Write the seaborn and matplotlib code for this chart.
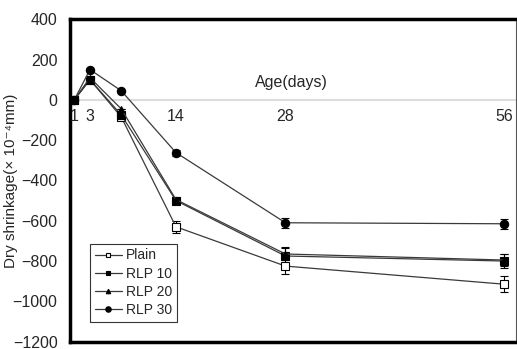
import matplotlib
matplotlib.use("Agg")
import matplotlib.pyplot as plt
import seaborn as sns
import pandas as pd

ages = [1, 3, 7, 14, 28, 56]
series_names = ["Plain", "RLP 10", "RLP 20", "RLP 30"]
plain = [0, 100, -85, -630, -825, -915]
rlp10 = [0, 100, -75, -500, -775, -800]
rlp20 = [0, 110, -45, -495, -765, -795]
rlp30 = [0, 150, 45, -262, -610, -615]
plain_err = [0, 0, 0, 30, 40, 40]
rlp10_err = [0, 0, 0, 15, 45, 35]
rlp20_err = [0, 0, 0, 15, 30, 30]
rlp30_err = [0, 0, 0, 15, 25, 25]
tick_ages = [1, 3, 7, 14, 28, 56]
tick_labels = ["1", "3", "", "14", "28", "56"]
y_ticks = [400, 200, 0, -200, -400, -600, -800, -1000, -1200]

values = [plain, rlp10, rlp20, rlp30]
errors = [plain_err, rlp10_err, rlp20_err, rlp30_err]
rows = []
for name, vals, errs in zip(series_names, values, errors):
    for a, v, e in zip(ages, vals, errs):
        rows.append({"Age": a, "Shrinkage": v, "Err": e, "Mix": name})
df = pd.DataFrame(rows)

sns.set_theme(style="white")
plt.rcParams["font.family"] = ["Liberation Sans", "DejaVu Sans"]

fig = plt.figure(figsize=(5.17, 3.49), dpi=100)
ax = fig.add_axes([0.1354, 0.021, 0.863, 0.924])

ax.axhline(0, color="#dddddd", lw=1.5, zorder=0)

markers = {"Plain": "s", "RLP 10": "s", "RLP 20": "^", "RLP 30": "o"}
sizes = {"Plain": 5.5, "RLP 10": 5.5, "RLP 20": 5, "RLP 30": 6}
faces = {"Plain": "white", "RLP 10": "black", "RLP 20": "black", "RLP 30": "black"}

for name in series_names:
    sub = df[df["Mix"] == name]
    sns.lineplot(data=sub, x="Age", y="Shrinkage", ax=ax, color="#3a3a3a",
                 lw=0.9, marker=markers[name], markersize=sizes[name],
                 markerfacecolor=faces[name], markeredgecolor="black",
                 markeredgewidth=0.8, label=name, zorder=3)
    ax.errorbar(sub["Age"], sub["Shrinkage"], yerr=sub["Err"], fmt="none",
                ecolor="black", elinewidth=0.8, capsize=3, capthick=0.8, zorder=2)

ax.set_xlim(0.45, 57.5)
ax.set_ylim(-1200, 400)
ax.set_yticks(y_ticks)
ax.set_yticklabels([f"{t}".replace("-", "\u2212") for t in y_ticks], fontsize=11.5)
ax.set_xticks([])
for a, lab in zip(tick_ages, tick_labels):
    ax.text(a, -45, lab, ha="center", va="top", fontsize=11.5)
ax.text(28.8, 50, "Age(days)", ha="center", va="bottom", fontsize=11.5)

ax.set_xlabel("")
ax.set_ylabel("Dry shrinkage(\u00d7 10\u207b\u2074mm)", fontsize=11)
ax.yaxis.set_label_coords(-0.117, 0.5)
ax.tick_params(axis="y", length=0, pad=9)

for side in ["left", "top", "bottom"]:
    ax.spines[side].set_linewidth(2.5)
    ax.spines[side].set_color("black")
ax.spines["right"].set_linewidth(0.8)
ax.spines["right"].set_color("#555555")

leg = ax.legend(loc="lower left", bbox_to_anchor=(0.03, 0.04), fontsize=10,
                frameon=True, fancybox=False, edgecolor="black",
                handlelength=1.9, handletextpad=0.3, borderpad=0.35,
                labelspacing=0.3, markerscale=0.65)
leg.get_frame().set_linewidth(0.8)

fig.savefig("out.png", dpi=100)
